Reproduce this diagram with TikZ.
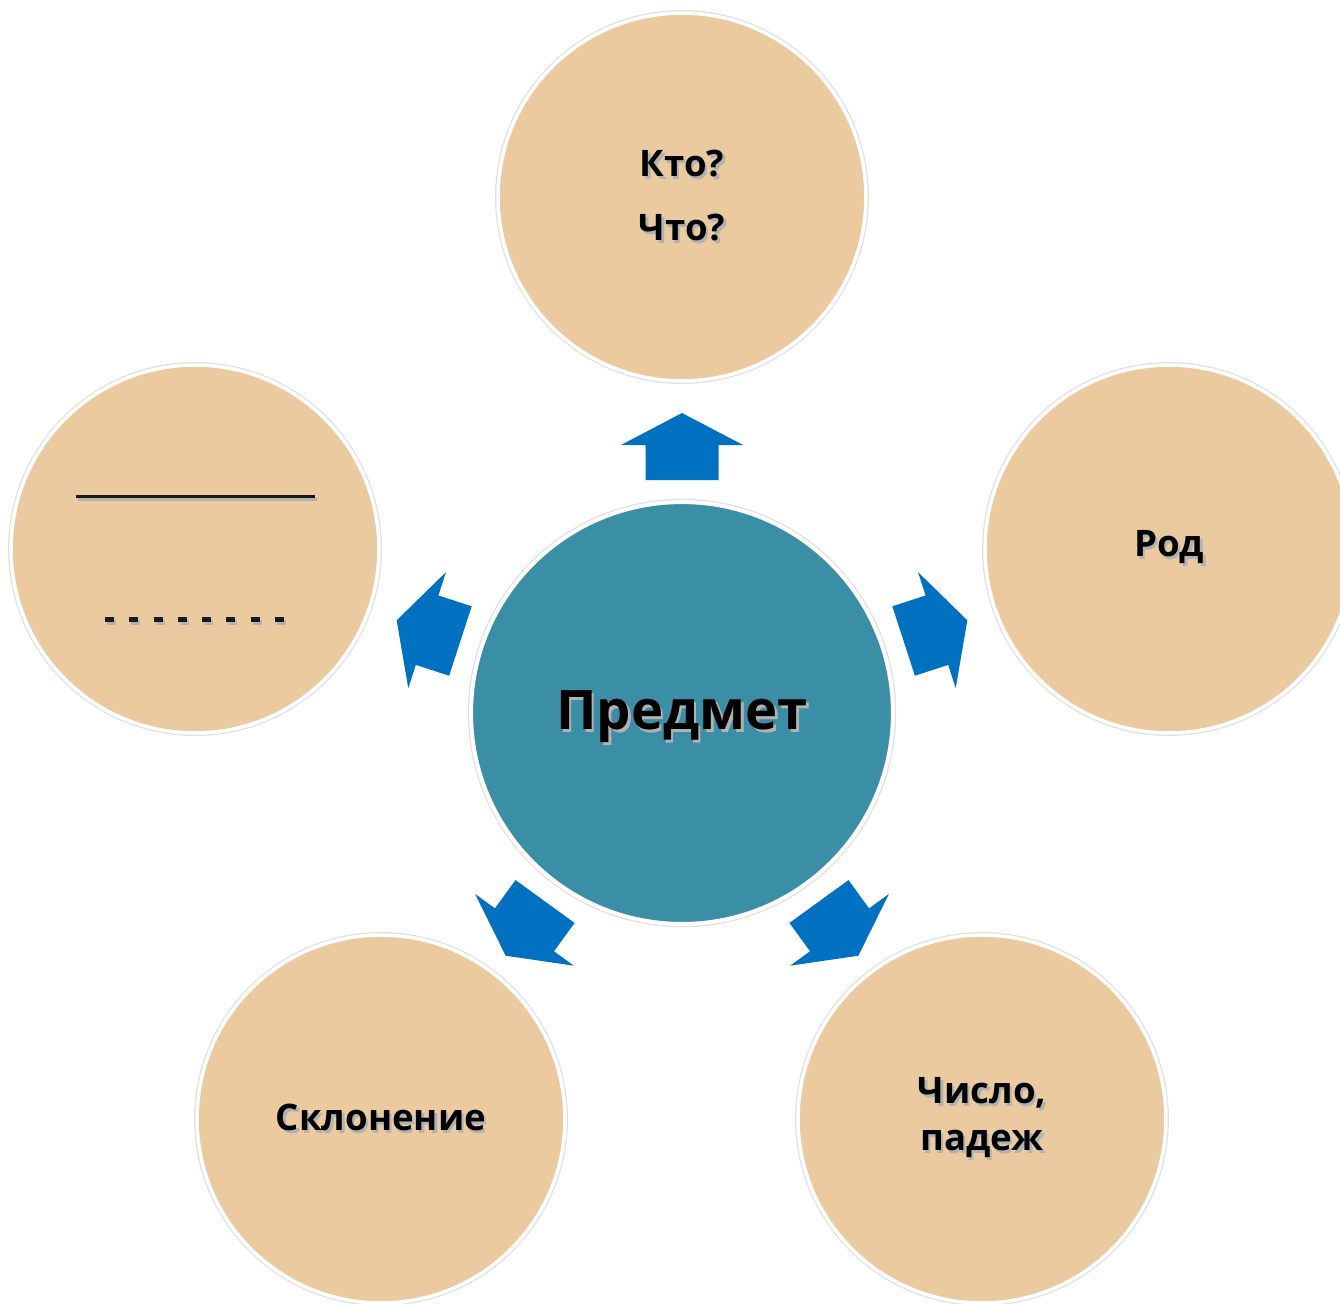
\documentclass[tikz,border=0pt]{standalone}
\usepackage{fontspec}
\setmainfont{Open Sans}
\usetikzlibrary{positioning,calc}
\definecolor{sand}{RGB}{234,202,158}
\definecolor{seablue}{RGB}{58,142,165}
\definecolor{arrowblue}{RGB}{0,112,192}
\newcommand{\shtxt}[1]{\makebox[0pt][l]{\kern0.05cm\raisebox{-0.06cm}{\textcolor{black!30}{#1}}}#1}
\tikzstyle{sandnode}=[circle, fill=sand, draw=white, line width=0.07cm, minimum size=7.36cm, inner sep=0pt, align=center, font=\bfseries\fontsize{20.8}{36}\selectfont, preaction={draw=black!12, line width=0.12cm}]
\tikzstyle{mainnode}=[circle, fill=seablue, draw=white, line width=0.08cm, minimum size=8.44cm, inner sep=0pt, font=\bfseries\fontsize{31}{38}\selectfont, preaction={draw=black!12, line width=0.13cm}]

\begin{document}
\begin{tikzpicture}[x=0.02cm,y=0.02cm]
\useasboundingbox (0,0) rectangle (1340,-1303);
%Nodes
\node[mainnode]   (pred)   at (682,-713)   {\raisebox{0pt}[\dimexpr\height+0.2cm][\depth]{\shtxt{Предмет}}};
\node[sandnode]   (kto)    at (682,-197)   {\shtxt{Кто?}\\\shtxt{Что?}};
\node[sandnode]   (rod)    at (1169,-549)  {\shtxt{Род}};
\node[sandnode, font=\bfseries\fontsize{20.8}{27}\selectfont] (chislo) at (982,-1119) {\shtxt{Число,}\\\shtxt{падеж}};
\node[sandnode]   (skl)    at (381,-1119)  {\shtxt{Склонение}};
\node[sandnode]   (lines)  at (195,-549)   {};
%Arrows
\foreach \ang in {90,18,-54,-126,162}
  \fill[arrowblue, shift={(pred.center)}, rotate=\ang] (233,-36.5) -- (268,-36.5) -- (268,-61) -- (300,0) -- (268,61) -- (268,36.5) -- (233,36.5) -- cycle;
%Lines in the empty circle
\draw[black!30, line width=0.06cm] ([shift={(-117,50)}]lines.center) -- ([shift={(122,50)}]lines.center);
\draw[black!90, line width=0.06cm] ([shift={(-119,53)}]lines.center) -- ([shift={(120,53)}]lines.center);
\draw[black!30, line width=0.1cm, dash pattern=on 0.18cm off 0.306cm] ([shift={(-88,-73)}]lines.center) -- ([shift={(94,-73)}]lines.center);
\draw[black!90, line width=0.1cm, dash pattern=on 0.18cm off 0.306cm] ([shift={(-90,-70)}]lines.center) -- ([shift={(92,-70)}]lines.center);
\end{tikzpicture}
\end{document}
